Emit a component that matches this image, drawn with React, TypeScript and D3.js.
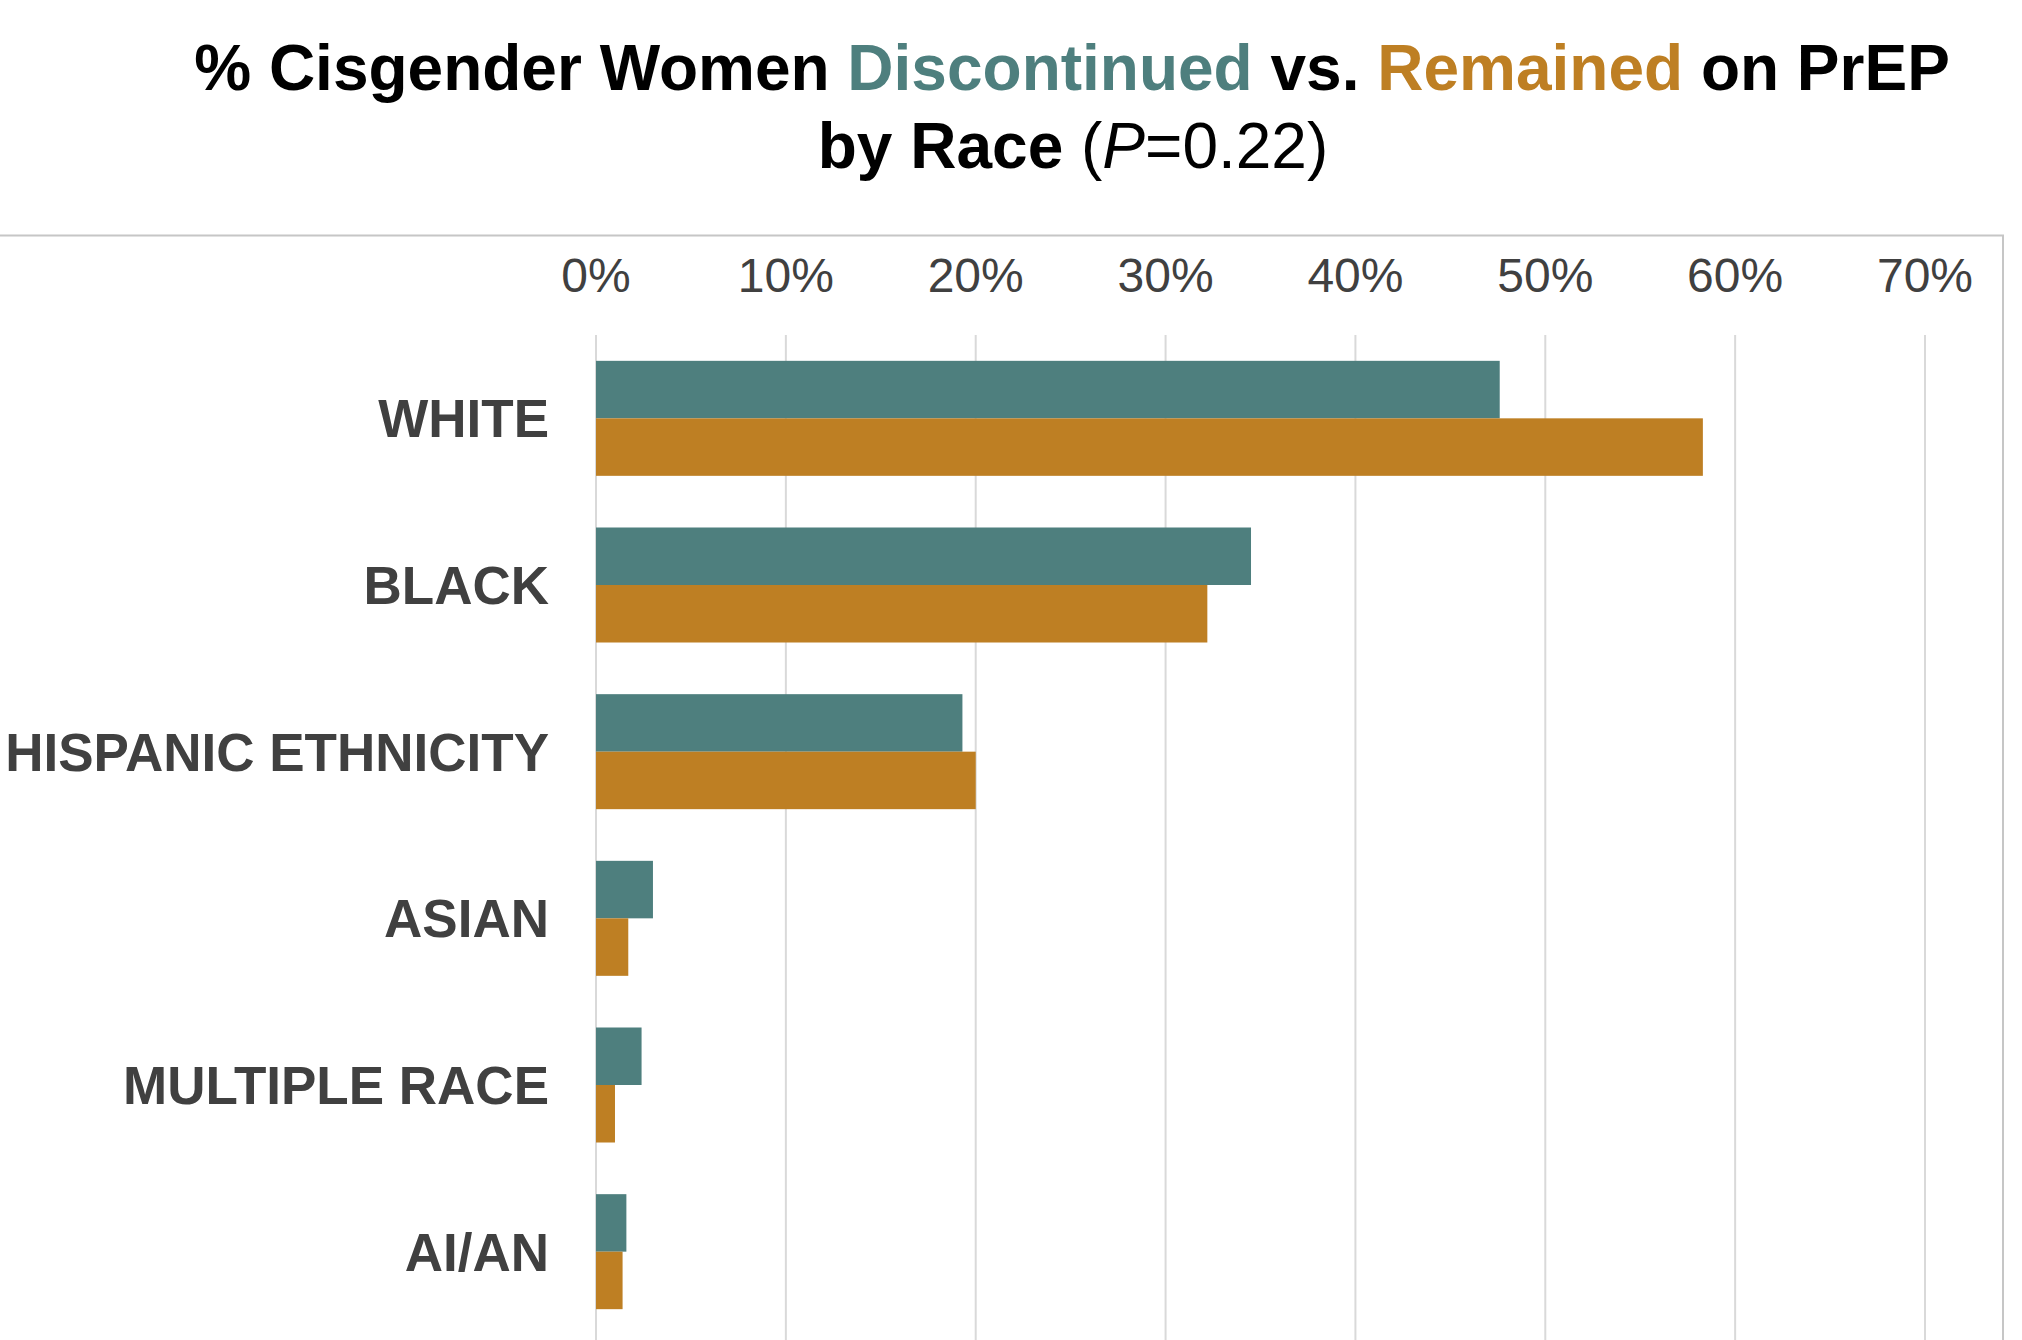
import React from 'react'
import * as d3 from 'd3'

// values (percent)
const categories = ['WHITE', 'BLACK', 'HISPANIC ETHNICITY', 'ASIAN', 'MULTIPLE RACE', 'AI/AN']
const discontinued = [47.6, 34.5, 19.3, 3.0, 2.4, 1.6]
const remained = [58.3, 32.2, 20.0, 1.7, 1.0, 1.4]
const seriesNames = ['Discontinued', 'Remained']
const tickValues = [0, 10, 20, 30, 40, 50, 60, 70]

const TEAL = '#4e7f7e'
const ORANGE = '#be7f23'
const TEXT = '#404040'
const FONT = '"Liberation Sans", Arial, sans-serif'

const W = 2022
const H = 1340

const App = () => {
    const x = d3.scaleLinear().domain([0, 70]).range([596, 1925])

    const y = d3
        .scaleBand()
        .domain(categories)
        .range([335, 1335])
        .paddingInner(0.31)
        .paddingOuter(0.155)

    const sub = d3
        .scaleBand()
        .domain(seriesNames)
        .range([0, y.bandwidth()])

    const color = d3.scaleOrdinal().domain(seriesNames).range([TEAL, ORANGE])

    const rows = categories.map((c, i) => ({
        category: c,
        values: [
            { key: 'Discontinued', value: discontinued[i] },
            { key: 'Remained', value: remained[i] },
        ],
    }))

    return (
        <svg
            width={W}
            height={H}
            style={{ position: 'absolute', left: 0, top: 0, background: '#fff' }}
            fontFamily={FONT}
        >
            {/* title */}
            <text x={1072} y={90} textAnchor='middle' fontSize={64} fontWeight='bold' fill='#000'>
                % Cisgender Women <tspan fill={TEAL}>Discontinued</tspan> vs.{' '}
                <tspan fill={ORANGE}>Remained</tspan> on PrEP
            </text>
            <text x={1073} y={168} textAnchor='middle' fontSize={64} fill='#000'>
                <tspan fontWeight='bold'>by Race </tspan>(
                <tspan fontStyle='italic'>P</tspan>=0.22)
            </text>

            {/* frame */}
            <path d='M0,235.5 H2003 V1340' fill='none' stroke='#c6c6c6' strokeWidth={2} />

            {/* grid */}
            {tickValues.map(t => (
                <line
                    key={'g' + t}
                    x1={x(t)}
                    x2={x(t)}
                    y1={335}
                    y2={H}
                    stroke='#d9d9d9'
                    strokeWidth={2}
                />
            ))}

            {/* tick labels on top */}
            {tickValues.map(t => (
                <text
                    key={'t' + t}
                    x={x(t)}
                    y={292}
                    textAnchor='middle'
                    fontSize={48}
                    fill={TEXT}
                >
                    {t}%
                </text>
            ))}

            {/* bars */}
            {rows.map(r => (
                <g key={r.category} transform={`translate(0, ${y(r.category)})`}>
                    {r.values.map(v => (
                        <rect
                            key={v.key}
                            x={x(0)}
                            y={sub(v.key)}
                            width={x(v.value) - x(0)}
                            height={sub.bandwidth()}
                            fill={color(v.key)}
                        />
                    ))}
                    <text
                        x={x(0) - 47}
                        y={y.bandwidth() / 2 + 19}
                        textAnchor='end'
                        fontSize={53}
                        fontWeight='bold'
                        fill={TEXT}
                    >
                        {r.category}
                    </text>
                </g>
            ))}
        </svg>
    )
}

export default App
